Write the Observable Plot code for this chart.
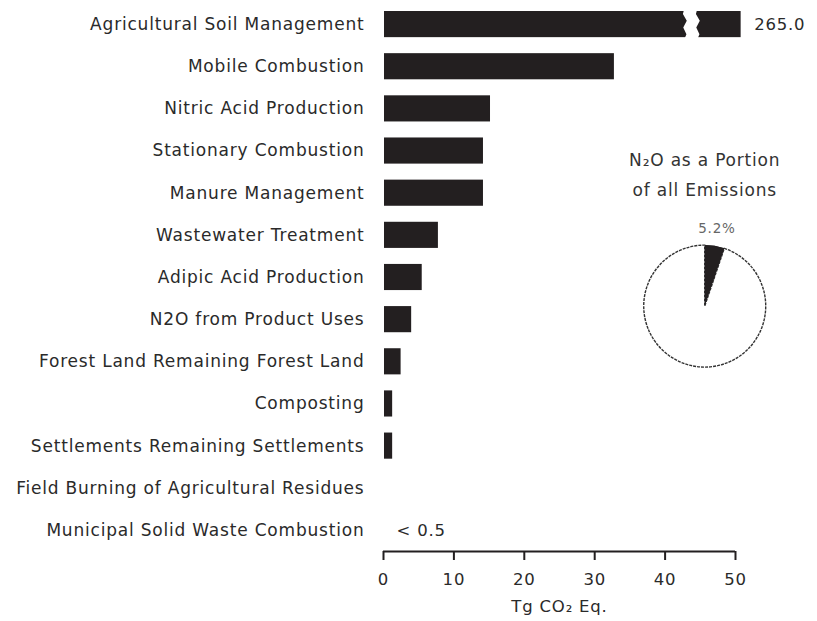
<!DOCTYPE html>
<html>
<head>
<meta charset="utf-8">
<script src="https://cdn.jsdelivr.net/npm/d3@7"></script>
<script src="https://cdn.jsdelivr.net/npm/@observablehq/plot@0.6"></script>
<style>
  html, body { margin: 0; padding: 0; background: #ffffff; }
  #chart svg { display: block; }
</style>
</head>
<body>
<div id="chart"></div>
<script>
// ---- data ----
const categories = [
  "Agricultural Soil Management",
  "Mobile Combustion",
  "Nitric Acid Production",
  "Stationary Combustion",
  "Manure Management",
  "Wastewater Treatment",
  "Adipic Acid Production",
  "N2O from Product Uses",
  "Forest Land Remaining Forest Land",
  "Composting",
  "Settlements Remaining Settlements",
  "Field Burning of Agricultural Residues",
  "Municipal Solid Waste Combustion"
];
const values = [265.0, 32.8, 15.2, 14.2, 14.2, 7.8, 5.5, 4.0, 2.5, 1.3, 1.3, 0.1, null];
const valueNotes = ["265.0", null, null, null, null, null, null, null, null, null, null, null, "< 0.5"];
const xTicks = [0, 10, 20, 30, 40, 50];
const axisTitle = "Tg CO\u2082 Eq.";
const barCap = 50.8;          // broken bar is drawn to this length
const breakFrom = 42.6;       // where the broken bar is cut
const pieShares = [5.2, 94.8];           // N2O vs all other emissions (%)
const pieLabel = "5.2%";
const pieTitle = ["N\u2082O as a Portion", "of all Emissions"];

// ---- derived table ----
const rows = categories.map((c, i) => ({
  c, i, v: values[i],
  shown: values[i] == null ? null : Math.min(values[i], barCap),
  note: valueNotes[i]
}));
const barRows = rows.filter(d => d.v != null && d.v > 0);
const noteRows = rows.filter(d => d.note != null);

// zigzag for the break in the first bar (offsets relative to the row)
const zig = [
  {dy: -0.40, dx: 0.25}, {dy: -0.24, dx: 0.0}, {dy: -0.08, dx: 0.55},
  {dy: 0.08, dx: 0.05}, {dy: 0.24, dx: 0.5}, {dy: 0.40, dx: 0.1}
];
const brokenRow = rows.filter(d => d.v > barCap);
const breakPts = brokenRow.flatMap(r => zig.map(z => ({y: r.i + z.dy, x1: breakFrom + z.dx, x2: breakFrom + z.dx + 1.85})));

const font = "'DejaVu Sans', Verdana, sans-serif";
const ink = "#231f20";
const txt = "#2a2a2a";

function pieMark(index, scales, values, dimensions) {
  const cx = scales.x(45.7), cy = scales.y(6.69);
  const r = 61;
  const g = d3.create("svg:g").attr("transform", `translate(${cx},${cy})`);
  const arcs = d3.pie().sort(null)(pieShares);
  const arc = d3.arc().innerRadius(0).outerRadius(r);
  g.selectAll("path").data(arcs).join("path")
    .attr("d", arc)
    .attr("fill", (d, i) => i === 0 ? ink : "#ffffff")
    .attr("stroke", (d, i) => i === 0 ? "none" : "#333")
    .attr("stroke-width", 1.4)
    .attr("stroke-dasharray", (d, i) => i === 0 ? null : "3,1");
  g.append("path").attr("d", arc(arcs[0])).attr("fill", ink);
  const mid = (arcs[0].startAngle + arcs[0].endAngle) / 2;
  g.append("text")
    .attr("x", Math.sin(mid) * (r + 14))
    .attr("y", -Math.cos(mid) * (r + 14) + 1)
    .attr("text-anchor", "middle")
    .attr("font-family", font).attr("font-size", 13.5).attr("fill", "#666")
    .text(pieLabel);
  pieTitle.forEach((t, k) => {
    g.append("text")
      .attr("x", 0).attr("y", -140 + k * 30)
      .attr("text-anchor", "middle")
      .attr("font-family", font).attr("font-size", 17).attr("fill", "#333")
      .text(t);
  });
  return g.node();
}

const chart = Plot.plot({
  width: 817,
  height: 621,
  marginLeft: 383,
  marginRight: 82,
  marginTop: 3,
  marginBottom: 70,
  style: {fontFamily: font, background: "#ffffff", color: ink, letterSpacing: "0.8px"},
  x: {domain: [0, 50]},
  y: {domain: [-0.5, 12.5], reverse: true},
  marks: [
    Plot.rectX(barRows, {x1: 0, x2: "shown", y1: d => d.i - 0.31, y2: d => d.i + 0.31, fill: ink, insetLeft: 1}),
    Plot.areaX(breakPts, {x1: "x1", x2: "x2", y: "y", fill: "#ffffff", curve: "linear"}),
    Plot.text(noteRows, {x: d => d.shown == null ? 0 : d.shown, y: "i", text: "note", textAnchor: "start", dx: 13, fontSize: 16.5, fill: txt}),
    Plot.ruleY([12.5], {x1: 0, x2: 50, stroke: ink, strokeWidth: 2}),
    Plot.axisX({ticks: xTicks, tickSize: 9, tickPadding: 13, strokeWidth: 2, stroke: ink, fontSize: 16.5, fill: txt, label: null}),
    Plot.text([axisTitle], {x: 25, y: 12.5, dy: 55, fontSize: 16.5, fill: txt}),
    Plot.axisY({ticks: categories.map((c, i) => i), tickFormat: i => categories[i], tickSize: 0, tickPadding: 19, fontSize: 17, label: null, fill: txt}),
    pieMark
  ]
});
document.getElementById("chart").append(chart);
</script>
</body>
</html>
